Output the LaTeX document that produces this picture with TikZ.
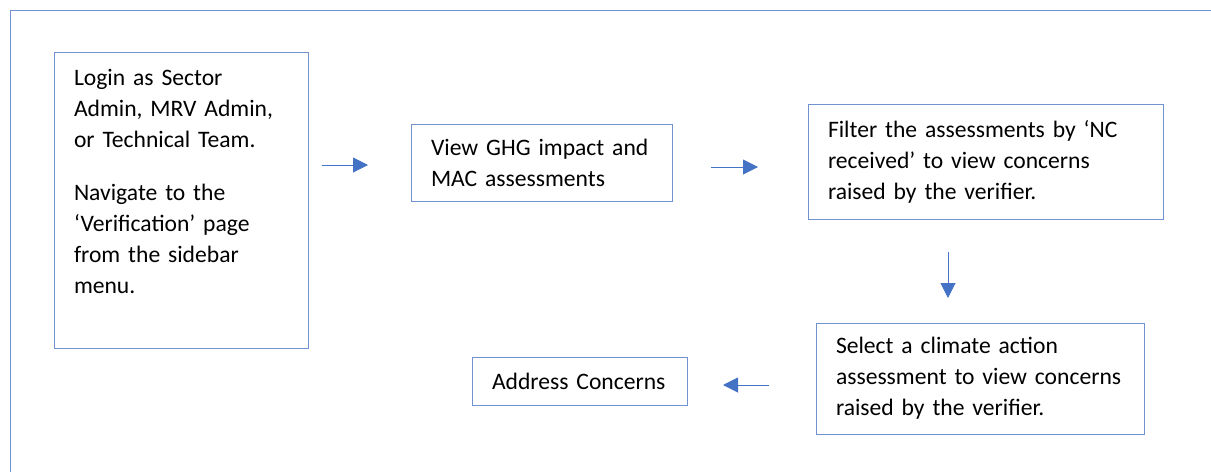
\documentclass[tikz,border=0pt]{standalone}
\usepackage{fontspec}
\setmainfont{Carlito}
\usepackage{xcolor}
\usetikzlibrary{arrows.meta}
\definecolor{accentblue}{RGB}{68,114,196}
\definecolor{edgeblue}{RGB}{112,146,208}
\tikzset{
  stepbox/.style={draw=edgeblue, line width=0.9pt, align=left, inner xsep=20pt, inner ysep=0pt,
    font=\fontsize{23.6}{31}\selectfont},
  flow/.style={draw=accentblue, line width=1pt, -{Triangle[length=15pt,width=15pt]}}
}

\begin{document}
\begin{tikzpicture}[x=1pt, y=-1pt]
  \useasboundingbox (0,0) rectangle (1211,472);
  \draw[edgeblue, line width=0.9pt] (10,472) -- (10,10) -- (1211,10);
  \node[stepbox, text width=214pt, minimum height=296pt] (login) at (181,200)
    {Login as Sector\\Admin, MRV Admin,\\or Technical Team.\\[22pt]Navigate to the\\‘Verification’ page\\from the sidebar\\menu.\\[7pt]\mbox{}};
  \node[stepbox, text width=221pt, minimum height=77pt] (ghg) at (541.5,162.5)
    {View GHG impact and\\MAC assessments};
  \node[stepbox, text width=315pt, minimum height=115pt] (filter) at (985.5,161.5)
    {Filter the assessments by ‘NC\\received’ to view concerns\\raised by the verifier.};
  \node[stepbox, text width=288pt, minimum height=111pt] (select) at (980,378.5)
    {Select a climate action\\assessment to view concerns\\raised by the verifier.};
  \node[stepbox, text width=175pt, minimum height=48pt] (address) at (579.5,381)
    {Address Concerns};
  \coordinate (a1s) at (322,165);
  \coordinate (a1e) at (368,165);
  \coordinate (a2s) at (711,167);
  \coordinate (a2e) at (758,167);
  \coordinate (a3s) at (948,252);
  \coordinate (a3e) at (948,298);
  \coordinate (a4s) at (769,385);
  \coordinate (a4e) at (723,385);
  \draw[flow] (a1s) -- (a1e);
  \draw[flow] (a2s) -- (a2e);
  \draw[flow] (a3s) -- (a3e);
  \draw[flow] (a4s) -- (a4e);
\end{tikzpicture}
\end{document}
